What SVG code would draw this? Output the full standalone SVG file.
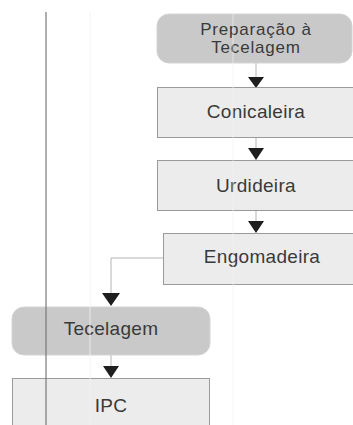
<svg xmlns="http://www.w3.org/2000/svg" width="353" height="425" viewBox="0 0 353 425">
<defs>
<style>
.term{fill:#c9c9c9;stroke:#d4d4d4;stroke-width:1}
.proc{fill:#ececec;stroke:#9a9a9a;stroke-width:1}
.lbl{font-family:"Liberation Sans",Arial,sans-serif;font-size:19px;letter-spacing:0.3px;fill:#3a3a3a;text-anchor:middle}
.sm{font-size:17px;letter-spacing:0.8px}
.conn{fill:none;stroke:#b5b5b5;stroke-width:1}
.arr{fill:#1e1e1e}
</style>
</defs>
<rect width="353" height="425" fill="#ffffff"/>
<g id="connectors">
<line class="conn" x1="256" y1="63" x2="256" y2="78"/>
<polygon class="arr" points="248,77 264,77 256,88"/>
<line class="conn" x1="256" y1="137" x2="256" y2="148"/>
<polygon class="arr" points="248,148 264,148 256,160"/>
<line class="conn" x1="256" y1="210" x2="256" y2="221"/>
<polygon class="arr" points="248,221 264,221 256,233"/>
<polyline class="conn" points="163,258 111,258 111,294"/>
<polygon class="arr" points="102,293 120,293 111,306"/>
<line class="conn" x1="111" y1="355" x2="111" y2="367"/>
<polygon class="arr" points="103,366 119,366 111,378"/>
</g>
<g id="preparacao">
<rect class="term" x="157" y="14" width="195" height="49" rx="12"/>
<text class="lbl sm" x="256" y="35">Preparação à</text>
<text class="lbl sm" x="256" y="53">Tecelagem</text>
</g>
<g id="conicaleira">
<rect class="proc" x="157.5" y="87.5" width="196" height="50"/>
<text class="lbl" x="256" y="118">Conicaleira</text>
</g>
<g id="urdideira">
<rect class="proc" x="157.5" y="160.5" width="196" height="50"/>
<text class="lbl" x="256" y="192">Urdideira</text>
</g>
<g id="engomadeira">
<rect class="proc" x="163.5" y="233.5" width="190" height="51"/>
<text class="lbl" x="262" y="263">Engomadeira</text>
</g>
<g id="tecelagem">
<rect class="term" x="12" y="307" width="198" height="48" rx="12"/>
<text class="lbl" x="111" y="335">Tecelagem</text>
</g>
<g id="ipc">
<rect class="proc" x="12.5" y="378.5" width="197" height="60"/>
<text class="lbl" x="111" y="412">IPC</text>
</g>
<g id="lanes">
<line x1="46" y1="12" x2="46" y2="425" stroke="#7a7a7a" stroke-width="1.2"/>
<line x1="90" y1="12" x2="90" y2="425" stroke="#f2f2f2" stroke-width="1" opacity="0.8"/>
<line x1="233" y1="12" x2="233" y2="425" stroke="#f4f4f4" stroke-width="1" opacity="0.6"/>
</g>
</svg>
